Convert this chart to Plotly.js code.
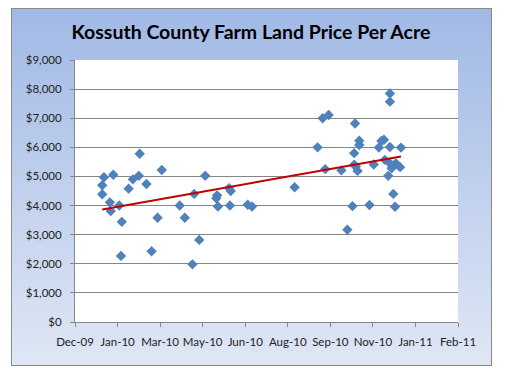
<!DOCTYPE html>
<html>
<head>
<meta charset="utf-8">
<script src="https://cdn.plot.ly/plotly-3.0.1.min.js"></script>
<style>
  html, body { margin: 0; padding: 0; background: #ffffff; }
  #wrap { position: relative; width: 512px; height: 384px; overflow: hidden; }
  #box { position: absolute; left: 11px; top: 8px; width: 479px; height: 356px;
         border: 1px solid #8a8a8a;
         background: linear-gradient(to bottom, #a0b9e5 0%, #c3d2ee 55%, #dfe7f5 100%); }
  #chart { position: absolute; left: 0; top: 0; width: 512px; height: 384px; }
</style>
</head>
<body>
<div id="wrap">
  <div id="box"></div>
  <div id="chart"></div>
</div>
<script>
// Sale dates and price per acre
const saleDates = [
  "2010-01-04","2010-01-04","2010-01-06","2010-01-13","2010-01-14","2010-01-17",
  "2010-01-24","2010-01-27","2010-01-26","2010-02-04","2010-02-09","2010-02-16",
  "2010-02-17","2010-02-25","2010-03-03","2010-03-10","2010-03-15","2010-04-05",
  "2010-04-11","2010-04-22","2010-04-20","2010-04-28","2010-05-05","2010-05-18",
  "2010-05-19","2010-05-20","2010-06-02","2010-06-04","2010-06-03","2010-06-24",
  "2010-06-29","2010-08-18","2010-09-14","2010-09-20","2010-09-27","2010-09-23",
  "2010-10-12","2010-10-19","2010-10-25","2010-10-28","2010-10-27","2010-10-27",
  "2010-10-29","2010-10-31","2010-11-02","2010-11-02","2010-11-14","2010-11-19",
  "2010-11-25","2010-11-28","2010-12-01","2010-12-02","2010-12-06","2010-12-08",
  "2010-12-08","2010-12-08","2010-12-08","2010-12-11","2010-12-15","2010-12-12",
  "2010-12-14","2010-12-20","2010-12-21","2010-12-10"
];
const pricePerAcre = [
  4390,4700,4970,4110,3810,5060,
  4000,3440,2270,4580,4900,5020,
  5780,4740,2430,3580,5220,4000,
  3580,4400,1980,2820,5020,4250,
  4350,3970,4600,4500,4000,4030,
  3970,4630,6000,7000,7110,5250,
  5210,3170,3980,6820,5800,5400,
  5340,5190,6230,6080,4020,5410,
  5990,6220,6260,5570,5020,7850,
  7570,6010,5450,5360,5450,4400,
  3960,5320,5990,5280
];
const tickDates = ["2009-12-03","2010-01-22","2010-03-13","2010-05-02","2010-06-21",
                   "2010-08-10","2010-09-29","2010-11-18","2011-01-07","2011-02-26"];
const tickLabels = ["Dec-09","Jan-10","Mar-10","May-10","Jun-10",
                    "Aug-10","Sep-10","Nov-10","Jan-11","Feb-11"];
const yTicks = [0,1000,2000,3000,4000,5000,6000,7000,8000,9000];

// Linear trendline (least squares) over the data
const xs = saleDates.map(d => new Date(d + "T00:00:00Z").getTime());
const n = xs.length;
const mx = xs.reduce((a,b)=>a+b,0)/n;
const my = pricePerAcre.reduce((a,b)=>a+b,0)/n;
let sxy = 0, sxx = 0;
for (let i = 0; i < n; i++) { sxy += (xs[i]-mx)*(pricePerAcre[i]-my); sxx += (xs[i]-mx)*(xs[i]-mx); }
const slope = sxy/sxx, icpt = my - slope*mx;
const xmin = Math.min(...xs), xmax = Math.max(...xs);
const trendX = [new Date(xmin).toISOString().slice(0,10), new Date(xmax).toISOString().slice(0,10)];
const trendY = [icpt + slope*xmin, icpt + slope*xmax];

const font = "Lato, 'Open Sans', 'Liberation Sans', sans-serif";
const data = [
  { x: saleDates, y: pricePerAcre, type: "scatter", mode: "markers",
    marker: { symbol: "diamond", size: 8, color: "#4f81bd" }, hoverinfo: "none" },
  { x: trendX, y: trendY, type: "scatter", mode: "lines",
    line: { color: "#c00000", width: 2 }, hoverinfo: "none" }
];
const layout = {
  width: 512, height: 384,
  paper_bgcolor: "rgba(0,0,0,0)", plot_bgcolor: "#ffffff",
  margin: { l: 75, r: 54, t: 60, b: 62, pad: 0 },
  showlegend: false,
  title: { text: "<b>Kossuth County Farm Land Price Per Acre</b>",
           font: { family: font, size: 19.5, color: "#000000" },
           x: 0.49, xanchor: "center", xref: "container", y: 0.915, yanchor: "middle" },
  xaxis: {
    type: "date", range: [tickDates[0], tickDates[tickDates.length-1]],
    tickmode: "array", tickvals: tickDates, ticktext: tickLabels,
    ticks: "outside", ticklen: 4, tickcolor: "#868686", tickangle: 0,
    showgrid: false, zeroline: false,
    showline: true, linecolor: "#868686", linewidth: 1,
    tickfont: { family: font, size: 11.5, color: "#222222" },
    ticklabelstandoff: 5
  },
  yaxis: {
    range: [0, 9000], tickmode: "array", tickvals: yTicks,
    tickformat: "$,.0f",
    ticks: "outside", ticklen: 4, tickcolor: "#868686",
    showgrid: true, gridcolor: "#868686", gridwidth: 1, zeroline: false,
    showline: true, linecolor: "#868686", linewidth: 1,
    tickfont: { family: font, size: 11.5, color: "#222222" },
    ticklabelstandoff: 6
  }
};
Plotly.newPlot("chart", data, layout, { staticPlot: true, displayModeBar: false });
</script>
</body>
</html>
